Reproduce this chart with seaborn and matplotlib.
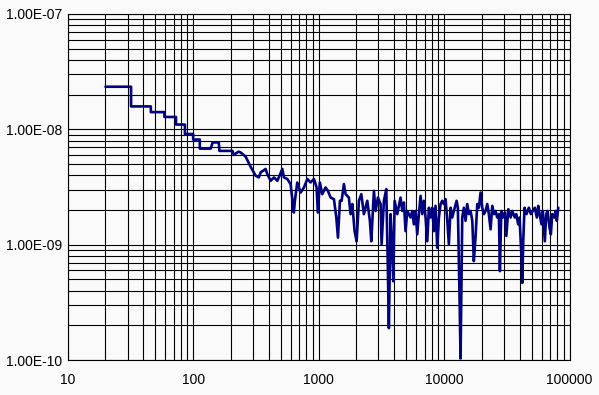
import numpy as np
import pandas as pd
import matplotlib
matplotlib.use("Agg")
import matplotlib.pyplot as plt
import matplotlib.ticker as mticker
import seaborn as sns

# stepped start of the curve (repeated x = vertical drop)
x_start = [20, 32, 32, 46, 46, 59, 59, 73, 73, 86, 86, 100, 100, 113, 113, 138,
           143, 160, 162, 206, 210, 230, 239, 262, 287]
y_start = [2.34e-8, 2.34e-8, 1.58e-8, 1.58e-8, 1.41e-8, 1.41e-8, 1.28e-8, 1.28e-8,
           1.10e-8, 1.10e-8, 9.1e-9, 9.1e-9, 8.15e-9, 8.15e-9, 6.8e-9, 6.8e-9,
           7.7e-9, 7.7e-9, 6.5e-9, 6.5e-9, 6.0e-9, 6.4e-9, 6.3e-9, 5.8e-9, 4.74e-9]

# noisy part
x_noise = [315, 334, 345, 378, 390, 415, 441, 469, 514, 529, 563, 598, 617, 635, 647,
           676, 719, 764, 813, 863, 918, 964, 986, 1023, 1069, 1136, 1186, 1246, 1325,
           1384, 1426, 1479, 1525, 1591, 1641, 1743, 1798, 1856, 1936, 2009, 2095, 2189,
           2296, 2443, 2563, 2630, 2760, 2846, 2969, 3119, 3177, 3315, 3462, 3564, 3631,
           3747, 3866, 3938, 4036, 4236, 4498, 4645, 4786, 4932, 5090, 5408, 5580, 5747,
           5924, 6111, 6294, 6499, 6698, 6902, 7122, 7343, 7570, 7803, 8048, 8297, 8553,
           8823, 9095, 9376, 9676, 9954, 10280, 10610, 10920, 11270, 11620, 11970, 12590,
           12880, 13300, 13530, 13710, 13960, 14380, 14830, 15300, 15770, 16260, 16790,
           17270, 17810, 18390, 18930, 19540, 20150, 20770, 21420, 22090, 22760, 23480,
           24210, 24950, 25730, 26530, 27350, 27860, 28580, 29460, 30560, 31340, 32510,
           33910, 34940, 36650, 37590, 38990, 39950, 41460, 41990, 42760, 43770, 45380,
           47410, 49170, 51000, 52920, 54870, 56320, 57690, 59830, 61260, 63550, 65200,
           66800, 69300, 71000, 72800, 75500, 77300, 79200, 81300]
y_noise = [3.96e-9, 3.83e-9, 4.23e-9, 4.53e-9, 4.09e-9, 3.58e-9, 3.83e-9, 3.58e-9,
           4.53e-9, 3.83e-9, 3.71e-9, 3.35e-9, 2.48e-9, 1.90e-9, 2.40e-9, 3.46e-9,
           2.83e-9, 3.13e-9, 3.71e-9, 3.46e-9, 3.71e-9, 3.13e-9, 1.90e-9, 3.46e-9,
           2.74e-9, 3.13e-9, 2.93e-9, 2.56e-9, 2.48e-9, 1.72e-9, 1.15e-9, 2.40e-9,
           2.40e-9, 3.35e-9, 2.74e-9, 2.56e-9, 1.84e-9, 2.25e-9, 1.31e-9, 1.07e-9,
           2.40e-9, 2.74e-9, 1.84e-9, 2.40e-9, 1.61e-9, 1.07e-9, 2.93e-9, 1.96e-9,
           2.56e-9, 2.25e-9, 1.01e-9, 2.40e-9, 3.03e-9, 6.30e-10, 1.89e-10, 1.84e-9,
           8.79e-10, 4.82e-10, 2.40e-9, 1.84e-9, 2.56e-9, 1.96e-9, 2.32e-9, 1.31e-9,
           1.96e-9, 1.72e-9, 1.96e-9, 1.50e-9, 1.96e-9, 1.23e-9, 1.84e-9, 2.65e-9,
           1.84e-9, 2.40e-9, 1.72e-9, 1.07e-9, 2.09e-9, 1.72e-9, 2.09e-9, 1.31e-9,
           2.17e-9, 9.40e-10, 1.72e-9, 2.25e-9, 2.40e-9, 2.25e-9, 2.48e-9, 1.61e-9,
           1.01e-9, 2.09e-9, 1.72e-9, 1.96e-9, 2.40e-9, 2.09e-9, 3.23e-10, 1.03e-10,
           3.23e-10, 1.72e-9, 2.09e-9, 1.61e-9, 2.25e-9, 1.84e-9, 1.96e-9, 1.61e-9,
           7.20e-10, 1.15e-9, 2.25e-9, 2.09e-9, 2.83e-9, 2.09e-9, 1.84e-9, 1.96e-9,
           2.25e-9, 1.84e-9, 1.36e-9, 2.17e-9, 1.84e-9, 1.96e-9, 1.72e-9, 1.84e-9,
           5.89e-10, 1.96e-9, 1.72e-9, 1.90e-9, 1.19e-9, 2.03e-9, 1.72e-9, 1.96e-9,
           1.72e-9, 1.84e-9, 1.50e-9, 1.72e-9, 7.69e-10, 4.66e-10, 1.07e-9, 2.09e-9,
           1.84e-9, 2.09e-9, 1.84e-9, 1.96e-9, 2.09e-9, 1.72e-9, 2.17e-9, 1.84e-9,
           1.50e-9, 1.96e-9, 1.07e-9, 1.84e-9, 1.96e-9, 1.40e-9, 1.23e-9, 1.84e-9,
           1.72e-9, 1.96e-9, 1.61e-9, 2.09e-9]

df = pd.DataFrame({"x": x_start + x_noise, "y": y_start + y_noise})

sns.set_style("white")
plt.rcParams['font.family'] = ['Liberation Sans', 'DejaVu Sans']

fig = plt.figure(figsize=(5.99, 3.95), dpi=100, facecolor='#fafafa')
ax = fig.add_axes([0.113, 0.0886, 0.8378, 0.876])
ax.set_facecolor('#fafafa')

sns.lineplot(data=df, x="x", y="y", sort=False, estimator=None,
             color='#000080', linewidth=1.9, ax=ax, zorder=3)

ax.set_xscale('log')
ax.set_yscale('log')
ax.set_xlim(10, 100000)
ax.set_ylim(1e-10, 1e-7)

ax.xaxis.set_major_locator(mticker.FixedLocator([10, 100, 1000, 10000, 100000]))
ax.yaxis.set_major_locator(mticker.FixedLocator([1e-10, 1e-9, 1e-8, 1e-7]))
ax.xaxis.set_minor_locator(mticker.LogLocator(base=10, subs=np.arange(2, 10), numticks=20))
ax.yaxis.set_minor_locator(mticker.LogLocator(base=10, subs=np.arange(2, 10), numticks=20))

ax.xaxis.set_major_formatter(mticker.FuncFormatter(lambda v, p: f"{v:.0f}"))
ax.yaxis.set_major_formatter(mticker.FuncFormatter(lambda v, p: f"{v:.2E}"))
ax.xaxis.set_minor_formatter(mticker.NullFormatter())
ax.yaxis.set_minor_formatter(mticker.NullFormatter())

ax.grid(True, which='both', color='black', linewidth=0.8)
ax.set_axisbelow(True)

ax.tick_params(axis='both', which='major', direction='out', length=3,
               width=0.8, color='black', labelsize=10, labelcolor='black')
ax.tick_params(axis='x', which='major', pad=6)
ax.tick_params(axis='y', which='major', pad=1)
ax.tick_params(axis='both', which='minor', length=0)

for s in ax.spines.values():
    s.set_color('black')
    s.set_linewidth(0.8)

ax.set_xlabel("")
ax.set_ylabel("")

fig.savefig("out.png", dpi=100, facecolor=fig.get_facecolor())
